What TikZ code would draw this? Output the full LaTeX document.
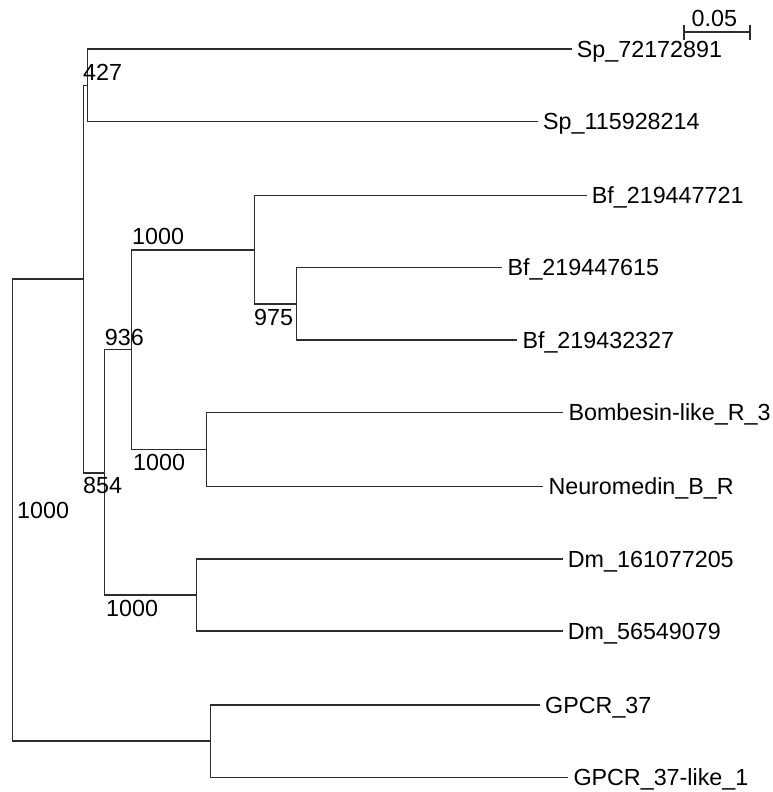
\documentclass[tikz,border=0pt]{standalone}
\usepackage{fontspec}
\setmainfont{Liberation Sans}
\usepackage{tikz}
\usetikzlibrary{positioning}
\usepackage{xcolor}
\definecolor{treegray}{RGB}{45,45,45}
\tikzstyle{branch} = [line width=1.1pt, color=treegray]
\tikzstyle{leaf} = [anchor=base west, inner sep=0pt, xshift=5pt, yshift=-8pt, font=\fontsize{23.3}{27}\selectfont]
\tikzstyle{boot} = [anchor=base west, inner sep=0pt, font=\fontsize{23.3}{27}\selectfont]

\begin{document}
\begin{tikzpicture}[x=1pt, y=-1pt]
\useasboundingbox (0,0) rectangle (772,792);
% inner nodes of the tree
\coordinate (root) at (12.3,510);
\coordinate (nA) at (83.3,279);
\coordinate (n427) at (87.5,85.5);
\coordinate (nB) at (104.7,473);
\coordinate (n936) at (131.7,349.5);
\coordinate (nBf) at (254.3,250);
\coordinate (n975) at (296.7,304);
\coordinate (nBom) at (206.3,449.5);
\coordinate (nDm) at (196.3,595);
\coordinate (nGPCR) at (210.7,741);
% leaf tips
\coordinate (tSp1) at (571.7,49);
\coordinate (tSp2) at (538,121.7);
\coordinate (tBf1) at (586.7,195.7);
\coordinate (tBf2) at (502.3,267.7);
\coordinate (tBf3) at (517.3,340);
\coordinate (tBom) at (563.3,412.7);
\coordinate (tNeu) at (543.3,486.7);
\coordinate (tDm1) at (562.7,559);
\coordinate (tDm2) at (562.7,631);
\coordinate (tG1) at (540,705);
\coordinate (tG2) at (568.3,777.3);
% leaf labels
\node (Sp1) [leaf] at (tSp1) {Sp\_72172891};
\node (Sp2) [leaf] at (tSp2) {Sp\_115928214};
\node (Bf1) [leaf] at (tBf1) {Bf\_219447721};
\node (Bf2) [leaf] at (tBf2) {Bf\_219447615};
\node (Bf3) [leaf] at (tBf3) {Bf\_219432327};
\node (Bom) [leaf] at (tBom) {Bombesin-like\_R\_3};
\node (Neu) [leaf] at (tNeu) {Neuromedin\_B\_R};
\node (Dm1) [leaf] at (tDm1) {Dm\_161077205};
\node (Dm2) [leaf] at (tDm2) {Dm\_56549079};
\node (G1) [leaf] at (tG1) {GPCR\_37};
\node (G2) [leaf] at (tG2) {GPCR\_37-like\_1};
% branches
\draw [branch] (tSp1) -| (n427) |- (tSp2);
\draw [branch] (n427) -| (nA) |- (nB);
\draw [branch] (n936) -| (nB) |- (nDm);
\draw [branch] (nBf) -| (n936) |- (nBom);
\draw [branch] (tBf1) -| (nBf) |- (n975);
\draw [branch] (tBf2) -| (n975) |- (tBf3);
\draw [branch] (tBom) -| (nBom) |- (tNeu);
\draw [branch] (tDm1) -| (nDm) |- (tDm2);
\draw [branch] (tG1) -| (nGPCR) |- (tG2);
\draw [branch] (nA) -| (root) |- (nGPCR);
% bootstrap values
\node (b427) [boot] at (83,81) {427};
\node (bBf) [boot] at (132,244) {1000};
\node (b975) [boot] at (254,325) {975};
\node (b936) [boot] at (104.7,345) {936};
\node (bBom) [boot] at (133,470) {1000};
\node (b854) [boot] at (83,493) {854};
\node (bRoot) [boot] at (17,518) {1000};
\node (bDm) [boot] at (106,616) {1000};
% scale bar
\coordinate (sbL) at (684,32);
\coordinate (sbR) at (750,32);
\draw [branch] (sbL) -- (sbR);
\draw [branch] ([yshift=7pt]sbL) -- ([yshift=-8pt]sbL);
\draw [branch] ([yshift=7pt]sbR) -- ([yshift=-8pt]sbR);
\node (sbText) [boot, anchor=base] at (714.3,26.7) {0.05};
\end{tikzpicture}
\end{document}
